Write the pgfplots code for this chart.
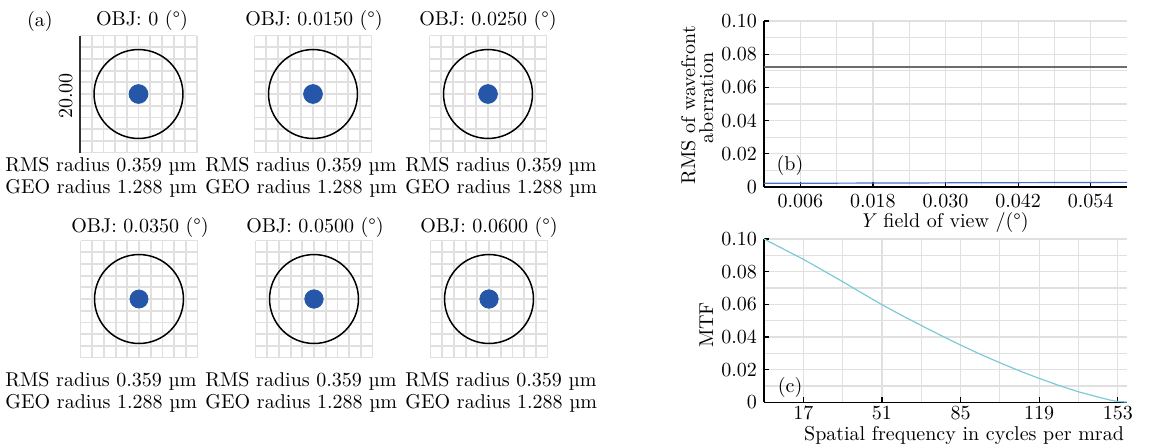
\documentclass[border=0pt]{standalone}
\usepackage{pgfplots}
\pgfplotsset{compat=1.18}
\definecolor{spotblue}{HTML}{2556A8}
\definecolor{rmsblue}{HTML}{4A6FD0}
\definecolor{mtfcyan}{HTML}{7CCAD8}
\definecolor{gridgray}{HTML}{E0E0E0}
\pgfplotsset{
  spot/.style={width=58.5pt,height=58.5pt,scale only axis,
    xmin=-10,xmax=10,ymin=-10,ymax=10,
    xtick={-10,-8,-6,-4,-2,0,2,4,6,8,10},ytick={-10,-8,-6,-4,-2,0,2,4,6,8,10},
    xticklabels={},yticklabels={},grid=major,
    major grid style={gridgray,line width=0.9pt},
    axis line style={draw=none},major tick length=0pt,clip=false,anchor=center},
  rplot/.style={width=181.5pt,scale only axis,anchor=south west,
    axis lines=left,axis line style={-,black,line width=0.6pt},
    tick align=inside,major tick length=2.5pt,minor tick length=0pt,
    tick style={black,line width=0.6pt},
    grid=both,major grid style={gridgray,line width=0.6pt},minor grid style={gridgray,line width=0.6pt},
    ymin=0,ymax=0.1,ytick={0,0.02,0.04,0.06,0.08,0.1},
    minor ytick={0.01,0.03,0.05,0.07,0.09},
    yticklabels={0,0.02,0.04,0.06,0.08,0.10},
    scaled ticks=false,clip=false}
}
\begin{document}
\begin{tikzpicture}
\useasboundingbox (0,0) rectangle (575pt,-222.5pt);
% ---- spot diagrams ----
\begin{axis}[spot,at={(69.25pt,-47pt)}]
\draw[line width=1.3pt,black!80] (axis cs:-10,-10) -- (axis cs:-10,10);
\draw[line width=0.75pt] (axis cs:0,0) circle [radius=7.6];
\addplot[only marks,mark=*,mark size=4.7pt,spotblue] coordinates {(0,0)};
\end{axis}
\begin{axis}[spot,at={(156.5pt,-47pt)}]
\draw[line width=0.75pt] (axis cs:0,0) circle [radius=7.6];
\addplot[only marks,mark=*,mark size=4.7pt,spotblue] coordinates {(0,0)};
\end{axis}
\begin{axis}[spot,at={(244pt,-47pt)}]
\draw[line width=0.75pt] (axis cs:0,0) circle [radius=7.6];
\addplot[only marks,mark=*,mark size=4.7pt,spotblue] coordinates {(0,0)};
\end{axis}
\begin{axis}[spot,at={(69.5pt,-149.5pt)}]
\draw[line width=0.75pt] (axis cs:0,0) circle [radius=7.6];
\addplot[only marks,mark=*,mark size=4.5pt,spotblue] coordinates {(0,0)};
\end{axis}
\begin{axis}[spot,at={(157pt,-149.5pt)}]
\draw[line width=0.75pt] (axis cs:0,0) circle [radius=7.6];
\addplot[only marks,mark=*,mark size=4.6pt,spotblue] coordinates {(0,0)};
\end{axis}
\begin{axis}[spot,at={(244.5pt,-149.5pt)}]
\draw[line width=0.75pt] (axis cs:0,0) circle [radius=7.6];
\addplot[only marks,mark=*,mark size=4.6pt,spotblue] coordinates {(0,0)};
\end{axis}
% titles
\node[anchor=base] at (20pt,-13pt) {(a)};
\node[anchor=base] at (71pt,-12.5pt) {OBJ: 0 (\textdegree)};
\node[anchor=base] at (157pt,-12.5pt) {OBJ: 0.0150 (\textdegree)};
\node[anchor=base] at (244pt,-12.5pt) {OBJ: 0.0250 (\textdegree)};
\node[anchor=base] at (70pt,-116pt) {OBJ: 0.0350 (\textdegree)};
\node[anchor=base] at (157.5pt,-116pt) {OBJ: 0.0500 (\textdegree)};
\node[anchor=base] at (244.5pt,-116pt) {OBJ: 0.0600 (\textdegree)};
\node[anchor=base,rotate=90] at (36pt,-48pt) {20.00};
% RMS / GEO text
\foreach \xx in {2.5,102.5,202.5}{
  \node[anchor=base west,inner sep=0pt] at (\xx pt,-85.5pt) {RMS radius 0.359 µm};
  \node[anchor=base west,inner sep=0pt] at (\xx pt,-96.5pt) {GEO radius 1.288 µm};
  \node[anchor=base west,inner sep=0pt] at (\xx pt,-193pt) {RMS radius 0.359 µm};
  \node[anchor=base west,inner sep=0pt] at (\xx pt,-204pt) {GEO radius 1.288 µm};
}
% ---- (b) RMS wavefront ----
\begin{axis}[rplot,at={(382pt,-93.5pt)},height=83pt,
  xmin=0,xmax=0.06,xtick={0.006,0.018,0.030,0.042,0.054},
  minor xtick={0.012,0.024,0.036,0.048},
  xticklabels={0.006,0.018,0.030,0.042,0.054}]
\addplot[gray!85!black,line width=0.8pt] coordinates {(0,0.0722) (0.06,0.0722)};
\addplot[rmsblue,line width=0.6pt] coordinates {(0,0.0022) (0.06,0.0028)};
\node[anchor=center] at (axis cs:0.0043,0.0127) {(b)};
\end{axis}
\node[anchor=base,rotate=90] at (347.5pt,-52.5pt) {RMS of wavefront};
\node[anchor=base,rotate=90] at (356.5pt,-49pt) {aberration};
\node[anchor=base] at (472pt,-113.5pt) {\textit{Y} field of view /(\textdegree)};
% ---- (c) MTF ----
\begin{axis}[rplot,at={(382pt,-201.2pt)},height=81.7pt,
  xmin=0,xmax=157,xtick={17,51,85,119,153},minor xtick={34,68,102,136},
  xticklabel style={yshift=1.2pt}]
\addplot[mtfcyan,line width=0.6pt] coordinates {
(0,0.1000) (8.5,0.0938) (17,0.0876) (25.5,0.0808) (34,0.0739) (42.5,0.0668)
(51,0.0598) (59.5,0.0533) (68,0.0471) (76.5,0.0410) (85,0.0351) (93.5,0.0295)
(102,0.0243) (110.5,0.0193) (119,0.0147) (127.5,0.0104) (136,0.0065)
(144.5,0.0033) (150,0.0013) (153,0.0006) (157,0.0002)};
\node[anchor=center] at (axis cs:11.3,0.0094) {(c)};
\end{axis}
\node[anchor=base] at (364pt,-162.5pt) {};
\node[anchor=base,rotate=90] at (356.5pt,-162.5pt) {MTF};
\node[anchor=base] at (482pt,-220.2pt) {Spatial frequency in cycles per mrad};
\end{tikzpicture}
\end{document}
